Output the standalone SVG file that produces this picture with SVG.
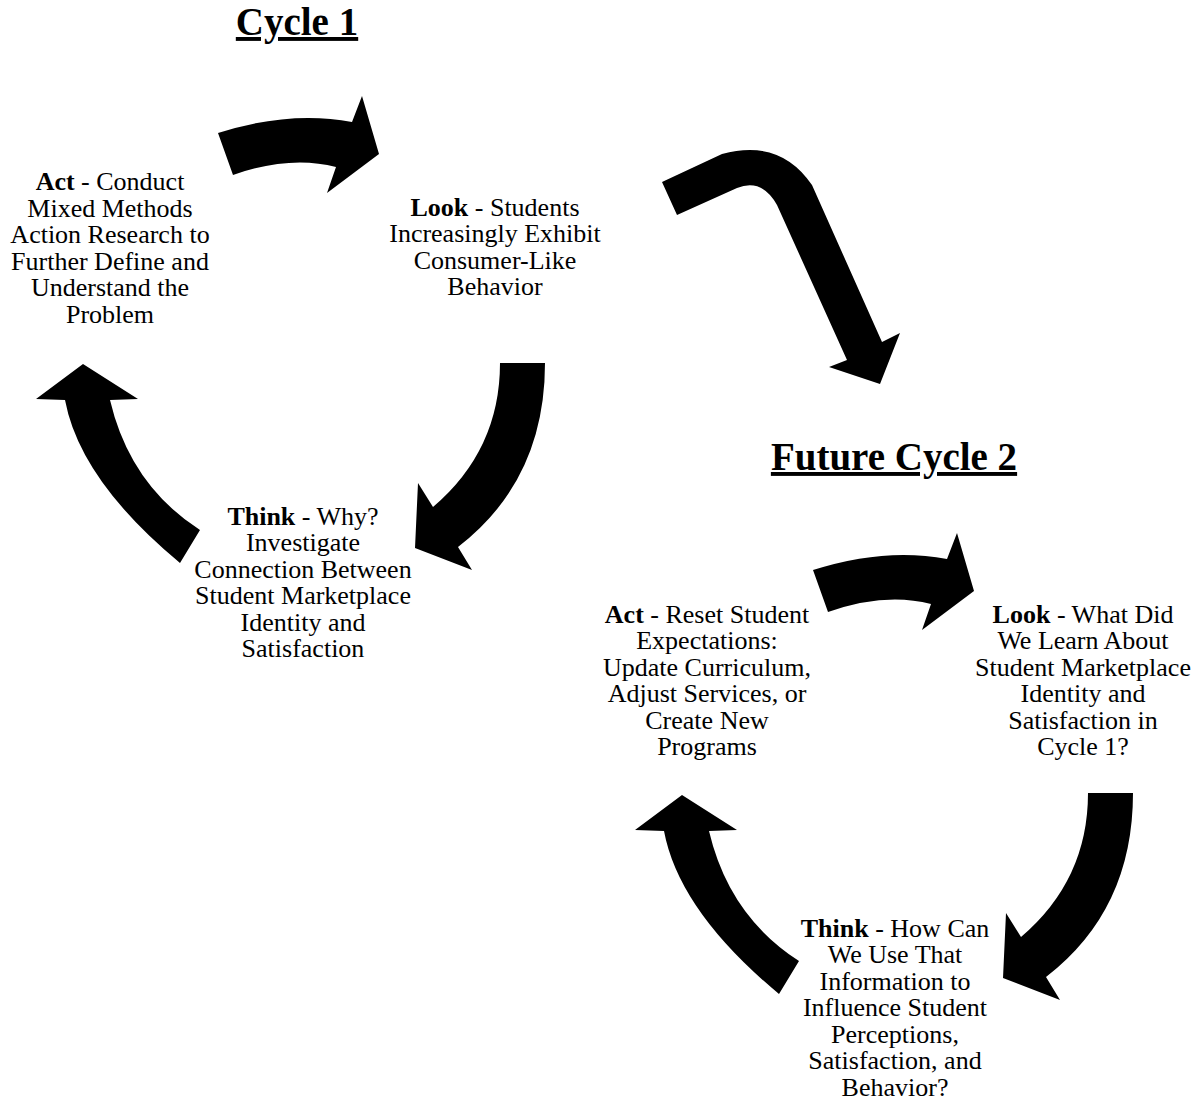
<svg xmlns="http://www.w3.org/2000/svg" xmlns:xlink="http://www.w3.org/1999/xlink" width="1202" height="1101" viewBox="0 0 1202 1101">
  <style>
    .lbl { font-family: "Liberation Serif", "Times New Roman", serif; font-size: 26px; fill: #000; text-anchor: middle; }
    .lbl .b { font-weight: bold; }
    .title { font-family: "Liberation Serif", "Times New Roman", serif; font-size: 39px; font-weight: bold; fill: #000; text-anchor: middle; text-decoration: underline; }
    .arrow { fill: #000; stroke: none; }
  </style>
  <defs>
    <!-- curved block arrow pointing right (top of each cycle) -->
    <path id="arcRight" class="arrow" d="M 218,133 Q 290,110 352,122 L 362,96 L 379,154 L 327,193 L 336,167 Q 290,155 233,175 Z"/>
    <!-- curved block arrow sweeping down-left (right side of each cycle) -->
    <path id="arcDown" class="arrow" d="M 500,363 L 545,363 Q 545,480 458,547 L 472,570 L 415,548 L 418,483 L 433,507 Q 500,450 500,363 Z"/>
    <!-- curved block arrow sweeping up (left side of each cycle) -->
    <path id="arcUp" class="arrow" d="M 200,530 L 180,563 Q 80,480 65,400 L 36,399 L 83,364 L 138,399 L 110,400 Q 130,485 200,530 Z"/>
  </defs>

  <rect width="1202" height="1101" fill="#fff"/>

  <!-- titles -->
  <text id="title-cycle1" class="title" x="297" y="35">Cycle 1</text>
  <text id="title-cycle2" class="title" x="894" y="470">Future Cycle 2</text>

  <!-- connectors -->
  <g id="connectors">
    <use id="c1-act-look" xlink:href="#arcRight"/>
    <use id="c1-look-think" xlink:href="#arcDown"/>
    <use id="c1-think-act" xlink:href="#arcUp"/>
    <!-- bent arrow leading from cycle 1 into cycle 2 -->
    <path id="cycle1-to-cycle2" class="arrow" d="M 662,182 L 722,154 Q 780,138 812,185 L 882,342 L 900,333 L 880,384 L 829,367 L 847,360 L 777,205 Q 762,178 737,188 L 677,215 Z"/>
    <use id="c2-act-look" xlink:href="#arcRight" transform="translate(595,437)"/>
    <use id="c2-look-think" xlink:href="#arcDown" transform="translate(588,430)"/>
    <use id="c2-think-act" xlink:href="#arcUp" transform="translate(599,431)"/>
  </g>

  <!-- cycle 1 nodes -->
  <g id="c1-act">
    <text class="lbl" x="110" y="190"><tspan class="b">Act</tspan> - Conduct</text>
    <text class="lbl" x="110" y="216.5">Mixed Methods</text>
    <text class="lbl" x="110" y="243">Action Research to</text>
    <text class="lbl" x="110" y="269.5">Further Define and</text>
    <text class="lbl" x="110" y="296">Understand the</text>
    <text class="lbl" x="110" y="322.5">Problem</text>
  </g>
  <g id="c1-look">
    <text class="lbl" x="495" y="215.5"><tspan class="b">Look</tspan> - Students</text>
    <text class="lbl" x="495" y="242">Increasingly Exhibit</text>
    <text class="lbl" x="495" y="268.5">Consumer-Like</text>
    <text class="lbl" x="495" y="295">Behavior</text>
  </g>
  <g id="c1-think">
    <text class="lbl" x="303" y="524.5"><tspan class="b">Think</tspan> - Why?</text>
    <text class="lbl" x="303" y="551">Investigate</text>
    <text class="lbl" x="303" y="577.5">Connection Between</text>
    <text class="lbl" x="303" y="604">Student Marketplace</text>
    <text class="lbl" x="303" y="630.5">Identity and</text>
    <text class="lbl" x="303" y="657">Satisfaction</text>
  </g>

  <!-- cycle 2 nodes -->
  <g id="c2-act">
    <text class="lbl" x="707" y="622.5"><tspan class="b">Act</tspan> - Reset Student</text>
    <text class="lbl" x="707" y="649">Expectations:</text>
    <text class="lbl" x="707" y="675.5">Update Curriculum,</text>
    <text class="lbl" x="707" y="702">Adjust Services, or</text>
    <text class="lbl" x="707" y="728.5">Create New</text>
    <text class="lbl" x="707" y="755">Programs</text>
  </g>
  <g id="c2-look">
    <text class="lbl" x="1083" y="622.5"><tspan class="b">Look</tspan> - What Did</text>
    <text class="lbl" x="1083" y="649">We Learn About</text>
    <text class="lbl" x="1083" y="675.5">Student Marketplace</text>
    <text class="lbl" x="1083" y="702">Identity and</text>
    <text class="lbl" x="1083" y="728.5">Satisfaction in</text>
    <text class="lbl" x="1083" y="755">Cycle 1?</text>
  </g>
  <g id="c2-think">
    <text class="lbl" x="895" y="936.5"><tspan class="b">Think</tspan> - How Can</text>
    <text class="lbl" x="895" y="963">We Use That</text>
    <text class="lbl" x="895" y="989.5">Information to</text>
    <text class="lbl" x="895" y="1016">Influence Student</text>
    <text class="lbl" x="895" y="1042.5">Perceptions,</text>
    <text class="lbl" x="895" y="1069">Satisfaction, and</text>
    <text class="lbl" x="895" y="1095.5">Behavior?</text>
  </g>
</svg>
